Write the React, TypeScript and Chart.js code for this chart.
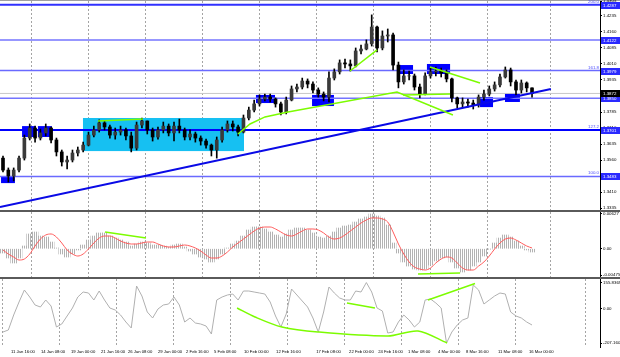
import React, { useEffect, useRef } from 'react';
import { Chart, registerables } from 'chart.js';
Chart.register(...registerables);

// ---------- data ----------
const CANDLE_STEP = 3; // H4 bars per drawn candle
const firstOpen = 1.3569;
const closes = [
  1.3513, 1.3485, 1.3513, 1.3569, 1.3663, 1.3710, 1.3663, 1.3687, 1.3710, 1.3654,
  1.3598, 1.3551, 1.3560, 1.3593, 1.3607, 1.3630, 1.3677, 1.3701, 1.3734, 1.3715,
  1.3677, 1.3691, 1.3701, 1.3673, 1.3616, 1.3724, 1.3743, 1.3701, 1.3668, 1.3701,
  1.3719, 1.3687, 1.3719, 1.3701, 1.3668, 1.3682, 1.3663, 1.3649, 1.3630, 1.3607,
  1.3654, 1.3701, 1.3729, 1.3715, 1.3691, 1.3757, 1.3794, 1.3823, 1.3846, 1.3855,
  1.3846, 1.3823, 1.3785, 1.3841, 1.3893, 1.3902, 1.3930, 1.3916, 1.3888, 1.3869,
  1.3855, 1.3944, 1.3973, 1.4015, 1.4010, 1.4001, 1.4071, 1.4080, 1.4104, 1.4183,
  1.4085, 1.4141, 1.4146, 1.4005, 1.3926, 1.3954, 1.3954, 1.3902, 1.3869, 1.3954,
  1.3973, 1.3977, 1.3968, 1.3940, 1.3851, 1.3823, 1.3832, 1.3827, 1.3818, 1.3855,
  1.3869, 1.3893, 1.3912, 1.3949, 1.3982, 1.3926, 1.3888, 1.3921, 1.3898, 1.3872,
];
const highs = [
  1.3579, 1.3523, 1.3523, 1.3579, 1.3677, 1.3729, 1.3719, 1.3705, 1.3729, 1.3715,
  1.3663, 1.3607, 1.3579, 1.3607, 1.3621, 1.3644, 1.3691, 1.3719, 1.3748, 1.3743,
  1.3724, 1.3710, 1.3719, 1.3710, 1.3691, 1.3738, 1.3757, 1.3743, 1.3710, 1.3715,
  1.3738, 1.3729, 1.3738, 1.3752, 1.3710, 1.3701, 1.3691, 1.3673, 1.3658, 1.3635,
  1.3668, 1.3715, 1.3743, 1.3743, 1.3724, 1.3771, 1.3808, 1.3841, 1.3865, 1.3869,
  1.3869, 1.3851, 1.3832, 1.3855, 1.3907, 1.3916, 1.3944, 1.3940, 1.3926, 1.3898,
  1.3879, 1.3973, 1.3987, 1.4029, 1.4033, 1.4029, 1.4085, 1.4099, 1.4123, 1.4240,
  1.4188, 1.4165, 1.4174, 1.4155, 1.4019, 1.3982, 1.3977, 1.3963, 1.3916, 1.3968,
  1.3991, 1.3996, 1.3991, 1.3982, 1.3944, 1.3855, 1.3851, 1.3846, 1.3841, 1.3865,
  1.3888, 1.3907, 1.3926, 1.3963, 1.3996, 1.3991, 1.3935, 1.3935, 1.3926, 1.3898,
];
const lows = [
  1.3504, 1.3457, 1.3462, 1.3504, 1.3560, 1.3654, 1.3644, 1.3654, 1.3673, 1.3640,
  1.3579, 1.3532, 1.3518, 1.3551, 1.3579, 1.3598, 1.3626, 1.3668, 1.3691, 1.3701,
  1.3663, 1.3658, 1.3677, 1.3654, 1.3598, 1.3607, 1.3710, 1.3682, 1.3649, 1.3658,
  1.3687, 1.3673, 1.3649, 1.3687, 1.3654, 1.3654, 1.3644, 1.3630, 1.3616, 1.3579,
  1.3569, 1.3644, 1.3691, 1.3696, 1.3673, 1.3687, 1.3748, 1.3785, 1.3813, 1.3837,
  1.3832, 1.3808, 1.3771, 1.3776, 1.3837, 1.3879, 1.3893, 1.3898, 1.3874, 1.3855,
  1.3837, 1.3832, 1.3935, 1.3963, 1.3991, 1.3977, 1.3996, 1.4057, 1.4076, 1.4094,
  1.4066, 1.4076, 1.4113, 1.3982, 1.3898, 1.3916, 1.3935, 1.3888, 1.3851, 1.3865,
  1.3944, 1.3954, 1.3949, 1.3926, 1.3832, 1.3804, 1.3808, 1.3808, 1.3799, 1.3808,
  1.3841, 1.3860, 1.3883, 1.3902, 1.3944, 1.3907, 1.3865, 1.3874, 1.3879, 1.3855,
];

const macdHist = [
  -0.00078, -0.00168, -0.00258, -0.00168, 0.00049, 0.00266, 0.00302, 0.00229, 0.00211, 0.00121,
  0.00013, -0.00096, -0.00150, -0.00096, -0.00023, 0.00067, 0.00157, 0.00229, 0.00284, 0.00284,
  0.00229, 0.00193, 0.00157, 0.00121, 0.00049, 0.00085, 0.00121, 0.00103, 0.00067, 0.00067,
  0.00049, 0.00031, 0.00067, 0.00085, 0.00031, -0.00042, -0.00096, -0.00150, -0.00186, -0.00240,
  -0.00186, -0.00096, 0.00013, 0.00085, 0.00139, 0.00229, 0.00338, 0.00392, 0.00392, 0.00356,
  0.00302, 0.00248, 0.00211, 0.00266, 0.00338, 0.00374, 0.00374, 0.00338, 0.00284, 0.00211,
  0.00193, 0.00229, 0.00302, 0.00374, 0.00410, 0.00428, 0.00482, 0.00537, 0.00573, 0.00627,
  0.00591, 0.00555, 0.00428, 0.00103, -0.00078, -0.00240, -0.00313, -0.00367, -0.00385, -0.00367,
  -0.00295, -0.00222, -0.00168, -0.00150, -0.00240, -0.00349, -0.00421, -0.00385, -0.00313, -0.00240,
  -0.00132, -0.00005, 0.00103, 0.00193, 0.00248, 0.00211, 0.00139, 0.00049, -0.00023, -0.00060,
];
const macdSignal = [
  -0.00023, -0.00096, -0.00150, -0.00204, -0.00186, -0.00096, 0.00049, 0.00175, 0.00248, 0.00266,
  0.00211, 0.00103, -0.00023, -0.00096, -0.00132, -0.00096, -0.00005, 0.00103, 0.00193, 0.00229,
  0.00229, 0.00193, 0.00139, 0.00103, 0.00085, 0.00085, 0.00103, 0.00121, 0.00121, 0.00085,
  0.00049, 0.00031, 0.00031, 0.00049, 0.00067, 0.00049, 0.00013, -0.00042, -0.00114, -0.00168,
  -0.00168, -0.00132, -0.00060, 0.00031, 0.00103, 0.00175, 0.00248, 0.00320, 0.00374, 0.00392,
  0.00392, 0.00356, 0.00302, 0.00248, 0.00229, 0.00266, 0.00320, 0.00356, 0.00356, 0.00338,
  0.00284, 0.00211, 0.00175, 0.00193, 0.00248, 0.00320, 0.00392, 0.00464, 0.00519, 0.00555,
  0.00555, 0.00537, 0.00482, 0.00302, 0.00085, -0.00096, -0.00240, -0.00331, -0.00367, -0.00385,
  -0.00349, -0.00258, -0.00186, -0.00150, -0.00168, -0.00258, -0.00349, -0.00385, -0.00385, -0.00313,
  -0.00240, -0.00132, -0.00005, 0.00103, 0.00175, 0.00193, 0.00157, 0.00103, 0.00049, 0.00013,
];
const cciValues = [
  -141, -129, -39, 39, 111, 69, 21, 9, 51, 15,
  -111, -93, -45, 3, 69, 99, 93, 51, 105, 51,
  3, -9, -39, -81, -117, 135, 75, -21, -57, -3,
  21, 27, 69, 21, -81, -57, -87, -93, -105, -153,
  51, 69, 81, 87, 51, 105, 105, 99, 93, 87,
  39, -45, -111, -33, 117, 81, 45, 9, -57, -141,
  -21, 129, 93, 63, 51, 51, 105, 99, 155.8, 99,
  3, -15, -147, -141, -81, -39, -69, -111, -81, 51,
  57, 33, 3, -207.2, -141, -99, -69, -57, 141, 111,
  27, 51, 75, 93, 87, -21, -45, -57, -81, -99,
];

const priceTicks = [1.3335, 1.3410, 1.3485, 1.3560, 1.3635, 1.3710, 1.3785, 1.3860, 1.3935, 1.4010, 1.4085, 1.4160, 1.4235, 1.4305];
const macdTicks = [-0.00475, 0, 0.00627];
const cciTicks = [-207.1601, 0, 155.8369];
const gridBars = [0, 32, 64, 96, 128, 160, 192, 224, 256, 288, 327];
const timeLabelBars = [4.5, 21.3, 38.2, 55.0, 70.2, 87.0, 102.8, 118.5, 135.3, 153.3, 175.8, 194.3, 210.6, 227.4, 244.2, 260.0, 277.9, 295.3];
const timeLabels = ['11 Jan 16:00', '14 Jan 08:00', '19 Jan 00:00', '21 Jan 16:00', '26 Jan 08:00', '29 Jan 00:00', '2 Feb 16:00', '5 Feb 08:00', '10 Feb 00:00', '12 Feb 16:00', '17 Feb 08:00', '22 Feb 00:00', '24 Feb 16:00', '1 Mar 08:00', '4 Mar 00:00', '8 Mar 16:00', '11 Mar 08:00', '16 Mar 00:00'];

const fiboLevels = [1.4287, 1.3979, 1.3701, 1.3483];
const fiboNames = ['200.0', '161.8', '127.2', '100.0'];
const fiboColors = ['#3030ff', '#6a6aff', '#0000ff', '#6a6aff'];
const extraLevels = [1.4122, 1.3850];
const lastPrice = 1.3872;

const trendLine = [[-1.7, 1.3340], [307.6, 1.3893]];
const greenPriceLines = [
  [[53.3, 1.3743], [78.6, 1.3752]],
  [[194.8, 1.3977], [210.0, 1.4076]],
  [[131.9, 1.3682], [138.7, 1.3729], [147.1, 1.3762], [160.0, 1.3785], [221.2, 1.3879], [252.6, 1.3771]],
  [[224.6, 1.3865], [251.0, 1.3869]],
  [[239.7, 1.3996], [267.8, 1.3921]],
];
const cyanZone = [44.9, 135.3, 1.3602, 1.3757];
const blueBoxes = [
  [-1.1, 6.7, 1.3452, 1.3485],
  [10.7, 18.5, 1.3668, 1.3719],
  [19.6, 27.5, 1.3668, 1.3719],
  [142.0, 152.7, 1.3827, 1.3865],
  [173.5, 185.8, 1.3813, 1.3865],
  [222.3, 230.2, 1.3963, 1.4005],
  [238.0, 251.0, 1.3963, 1.4010],
  [267.8, 275.1, 1.3808, 1.3855],
  [281.8, 290.2, 1.3832, 1.3874],
];
const macdGreen = [
  [[57.3, 0.00302], [80.3, 0.00193]],
  [[233.0, -0.00457], [256.6, -0.00439]],
];
const cciGreen = [
  [[131.4, 3], [141.5, -51], [156.6, -111], [176.8, -141], [216.1, -165], [233.0, -135], [249.3, -207]],
  [[193.1, 33], [208.8, 3]],
  [[238.6, 51], [265.0, 150]],
];

// ---------- helpers ----------
const X_MIN = -1.684;
const X_MAX = 335.16;
const FONT = 'Liberation Sans';
const FONT_SIZE = 4.4;
const TIME_FONT_SIZE = 4.2;
const GREEN = '#7cfc00';

const candleX = closes.map((_, i) => i * CANDLE_STEP);
const opens = closes.map((_, i) => (i === 0 ? firstOpen : closes[i - 1]));
const pts = (arr: number[][]) => arr.map(([x, y]) => ({ x, y }));

const xGrid = () => ({
  type: 'linear',
  min: X_MIN,
  max: X_MAX,
  offset: false,
  afterBuildTicks: (s: any) => { s.ticks = gridBars.map((v) => ({ value: v })); },
  afterFit: (s: any) => { s.height = 0; s.paddingLeft = 0; s.paddingRight = 0; },
  grid: { display: true, drawOnChartArea: true, drawTicks: false, tickLength: 0, color: '#a4a4a4', lineWidth: 1 },
  border: { display: false, dash: [2, 2] },
  ticks: { display: false },
});

const yRight = (min: number, max: number, ticks: number[], fmt: (v: number) => string) => ({
  type: 'linear',
  position: 'right',
  min,
  max,
  afterBuildTicks: (s: any) => { s.ticks = ticks.map((v) => ({ value: v })); },
  afterFit: (s: any) => { s.width = 20; s.paddingTop = 0; s.paddingBottom = 0; },
  grid: { display: true, drawOnChartArea: false, drawTicks: true, tickLength: 2, color: '#000' },
  border: { display: true, color: '#000', width: 1 },
  ticks: { autoSkip: false, color: '#000', padding: 1, font: { size: FONT_SIZE, family: FONT }, callback: (v: number) => fmt(v) },
});

const lineDs = (data: number[][], color: string, width: number, order = 1, tension = 0) => ({
  type: 'line',
  data: pts(data),
  borderColor: color,
  borderWidth: width,
  pointRadius: 0,
  tension,
  order,
});

const baseOptions = {
  animation: false,
  responsive: false,
  devicePixelRatio: 1,
  events: [],
  plugins: { legend: { display: false }, tooltip: { enabled: false } },
};

function priceConfig(): any {
  const levelDs = [
    ...fiboLevels.map((l, i) => lineDs([[X_MIN, l], [X_MAX, l]], fiboColors[i], i === 0 || i === 2 ? 2 : 1.5, 10)),
    ...extraLevels.map((l) => lineDs([[X_MIN, l], [X_MAX, l]], '#7474ff', 1.5, 10)),
    lineDs([[X_MIN, lastPrice], [X_MAX, lastPrice]], '#c8c8c8', 1, 11),
  ];
  const plugin = {
    id: 'priceDecor',
    beforeDatasetsDraw(chart: any) {
      const { ctx, chartArea: a, scales: { x, y } } = chart;
      ctx.save();
      ctx.beginPath();
      ctx.rect(a.left, a.top, a.width, a.height);
      ctx.clip();
      const rect = (b: number[], color: string) => {
        const x1 = x.getPixelForValue(b[0]);
        const x2 = x.getPixelForValue(b[1]);
        const y1 = y.getPixelForValue(b[3]);
        const y2 = y.getPixelForValue(b[2]);
        ctx.fillStyle = color;
        ctx.fillRect(x1, y1, x2 - x1, y2 - y1);
      };
      rect(cyanZone, '#16c0f2');
      blueBoxes.forEach((b) => rect(b, '#0000ff'));
      ctx.restore();
    },
    afterDraw(chart: any) {
      const { ctx, chartArea: a, scales: { y } } = chart;
      ctx.save();
      ctx.font = `${FONT_SIZE}px "${FONT}"`;
      const tag = (val: number, bg: string) => {
        const py = Math.round(y.getPixelForValue(val));
        ctx.fillStyle = bg;
        ctx.fillRect(a.right + 1, py - 3, 19, 7);
        ctx.fillStyle = '#fff';
        ctx.textAlign = 'left';
        ctx.textBaseline = 'middle';
        ctx.fillText(val.toFixed(4), a.right + 3, py + 0.5);
      };
      fiboLevels.forEach((l) => tag(l, '#2a2aff'));
      extraLevels.forEach((l) => tag(l, '#2a2aff'));
      tag(lastPrice, '#000');
      fiboLevels.forEach((l, i) => {
        const py = y.getPixelForValue(l);
        ctx.fillStyle = '#4a4aff';
        ctx.textAlign = 'right';
        ctx.textBaseline = 'bottom';
        ctx.fillText(fiboNames[i], a.right - 1, py - 1);
      });
      ctx.restore();
    },
  };
  return {
    type: 'bar',
    data: {
      datasets: [
        ...levelDs,
        {
          type: 'bar',
          data: candleX.map((x, i) => ({ x, y: [lows[i], highs[i]] })),
          backgroundColor: '#000',
          barThickness: 1,
          grouped: false,
          order: 5,
        },
        {
          type: 'bar',
          data: candleX.map((x, i) => ({ x, y: [opens[i], closes[i]] })),
          backgroundColor: (c: any) => (closes[c.dataIndex] >= opens[c.dataIndex] ? '#3a3a3a' : '#000'),
          borderWidth: 0,
          borderSkipped: false,
          barThickness: 3,
          grouped: false,
          order: 4,
        },
        lineDs(trendLine, '#0a0ae6', 2, 2),
        ...greenPriceLines.map((g) => lineDs(g, GREEN, 1.5, 1)),
      ],
    },
    options: {
      ...baseOptions,
      layout: { padding: { top: 1, left: 0, right: 0, bottom: 0 } },
      scales: {
        x: xGrid(),
        y: yRight(1.3326, 1.4305, priceTicks, (v) => v.toFixed(4)),
      },
    },
    plugins: [plugin],
  };
}

function macdConfig(pattern: any): any {
  return {
    type: 'bar',
    data: {
      datasets: [
        {
          type: 'bar',
          data: candleX.map((x, i) => ({ x, y: macdHist[i] })),
          backgroundColor: pattern,
          barThickness: 6,
          grouped: false,
          order: 5,
        },
        { ...lineDs(candleX.map((x, i) => [x, macdSignal[i]]), '#ff5c5c', 1, 2, 0.4), cubicInterpolationMode: 'monotone' },
        ...macdGreen.map((g) => lineDs(g, GREEN, 1.5, 1)),
      ],
    },
    options: {
      ...baseOptions,
      layout: { padding: 0 },
      scales: {
        x: xGrid(),
        y: yRight(-0.00511, 0.00663, macdTicks, (v) => (v === 0 ? '0.00' : v.toFixed(5))),
      },
    },
  };
}

function cciConfig(): any {
  return {
    type: 'line',
    data: {
      datasets: [
        lineDs(candleX.map((x, i) => [x, cciValues[i]]), '#b0b0b0', 1, 3),
        ...cciGreen.map((g) => lineDs(g, GREEN, 1.5, 1, 0.3)),
      ],
    },
    options: {
      ...baseOptions,
      layout: { padding: 0 },
      scales: {
        x: xGrid(),
        xl: {
          type: 'linear',
          position: 'bottom',
          min: X_MIN,
          max: X_MAX,
          offset: false,
          afterBuildTicks: (s: any) => { s.ticks = timeLabelBars.map((v) => ({ value: v })); },
          afterFit: (s: any) => { s.height = 10; s.paddingLeft = 0; s.paddingRight = 0; },
          grid: { display: false, drawTicks: false, tickLength: 0 },
          border: { display: false },
          ticks: {
            autoSkip: false,
            maxRotation: 0,
            minRotation: 0,
            align: 'start',
            padding: 2,
            color: '#000',
            font: { size: TIME_FONT_SIZE, family: FONT },
            callback: (_v: number, i: number) => timeLabels[i],
          },
        },
        y: yRight(-231, 177, cciTicks, (v) => (v === 0 ? '0.00' : v.toFixed(4))),
      },
    },
  };
}

export default function App() {
  const r1 = useRef<HTMLCanvasElement>(null);
  const r2 = useRef<HTMLCanvasElement>(null);
  const r3 = useRef<HTMLCanvasElement>(null);
  useEffect(() => {
    document.body.style.margin = '0';
    const tile = document.createElement('canvas');
    tile.width = 2;
    tile.height = 1;
    const tctx = tile.getContext('2d') as CanvasRenderingContext2D;
    tctx.fillStyle = '#b2b2b2';
    tctx.fillRect(0, 0, 1, 1);
    const c2 = r2.current as HTMLCanvasElement;
    const pattern = (c2.getContext('2d') as CanvasRenderingContext2D).createPattern(tile, 'repeat');
    const charts = [
      new Chart(r1.current as HTMLCanvasElement, priceConfig()),
      new Chart(c2, macdConfig(pattern)),
      new Chart(r3.current as HTMLCanvasElement, cciConfig()),
    ];
    return () => charts.forEach((c) => c.destroy());
  }, []);
  const abs = (top: number, h: number): React.CSSProperties => ({ position: 'absolute', left: 0, top, width: 620, height: h });
  return (
    <div style={{ position: 'relative', width: 620, height: 357, background: '#fff', overflow: 'hidden' }}>
      <div style={{ ...abs(0, 1), background: '#a0a0a0' }} />
      <canvas ref={r1} width={620} height={210} style={abs(0, 210)} />
      <div style={{ ...abs(210, 2), background: '#5a5a5a' }} />
      <canvas ref={r2} width={620} height={65} style={abs(212, 65)} />
      <div style={{ ...abs(277, 2), background: '#5a5a5a' }} />
      <canvas ref={r3} width={620} height={78} style={abs(279, 78)} />
    </div>
  );
}
